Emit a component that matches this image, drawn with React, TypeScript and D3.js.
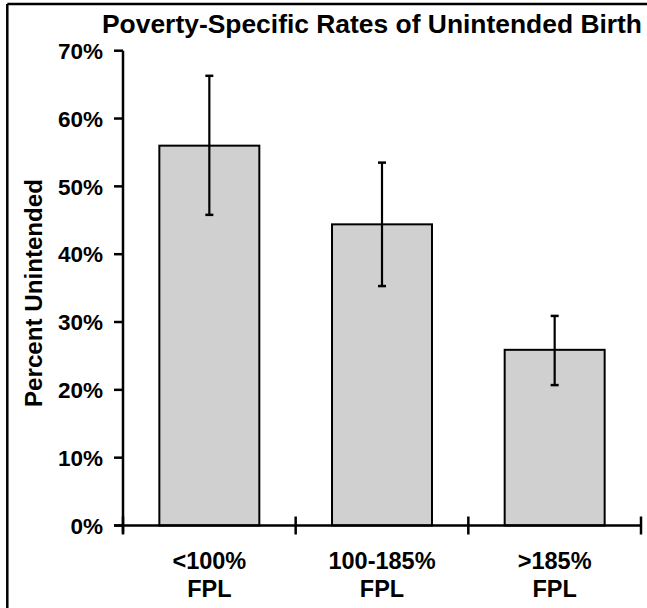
import React from "react";
import * as d3 from "d3";

const categories = ["<100%|FPL", "100-185%|FPL", ">185%|FPL"];
const values = [56.0, 44.4, 25.9];
const errLow = [45.8, 35.3, 20.7];
const errHigh = [66.3, 53.5, 30.9];
const yTicks = [0, 10, 20, 30, 40, 50, 60, 70];
const title = "Poverty-Specific Rates of Unintended Birth";
const yTitle = "Percent Unintended";

const W = 647;
const H = 608;
const FONT = "'Liberation Sans', Arial, sans-serif";

export default function App() {
  const x = d3
    .scaleBand<string>()
    .domain(categories)
    .range([123, 641])
    .paddingInner(0.421)
    .paddingOuter(0.2105);
  const y = d3.scaleLinear().domain([0, 70]).range([525.5, 50.7]);
  const step = x.step();
  const boundaries = d3.range(categories.length + 1).map((i) => 123 + i * step);
  const y0 = y(0);

  return (
    <svg
      width={W}
      height={H}
      style={{ position: "absolute", left: 0, top: 0, background: "#fff" }}
      fontFamily={FONT}
    >
      <rect x={0} y={0} width={W} height={H} fill="#fff" />
      {/* frame */}
      <line x1={7.3} y1={4} x2={W} y2={4} stroke="#000" strokeWidth={2.5} />
      <line x1={7.3} y1={4} x2={7.3} y2={H} stroke="#000" strokeWidth={2.5} />

      {/* title */}
      <text
        x={372}
        y={33}
        textAnchor="middle"
        fontSize={25}
        fontWeight="bold"
        textLength={540}
        lengthAdjust="spacingAndGlyphs"
      >
        {title}
      </text>

      {/* bars */}
      {categories.map((c, i) => (
        <rect
          key={c}
          x={x(c)!}
          y={y(values[i])}
          width={x.bandwidth()}
          height={y0 - y(values[i])}
          fill="#d0d0d0"
          stroke="#000"
          strokeWidth={2}
        />
      ))}

      {/* error bars */}
      {categories.map((c, i) => {
        const cx = x(c)! + x.bandwidth() / 2;
        return (
          <g key={"e" + c} stroke="#000">
            <line x1={cx} x2={cx} y1={y(errHigh[i])} y2={y(errLow[i])} strokeWidth={2.2} />
            <line x1={cx - 4} x2={cx + 4} y1={y(errHigh[i])} y2={y(errHigh[i])} strokeWidth={2.5} />
            <line x1={cx - 4} x2={cx + 4} y1={y(errLow[i])} y2={y(errLow[i])} strokeWidth={2.5} />
          </g>
        );
      })}

      {/* y axis */}
      <line x1={123} x2={123} y1={y(70)} y2={y0 + 8} stroke="#000" strokeWidth={2.5} />
      {yTicks.map((t) => (
        <g key={"yt" + t}>
          <line x1={114} x2={123} y1={y(t)} y2={y(t)} stroke="#000" strokeWidth={2.5} />
          <text
            x={103}
            y={y(t) + 8.3}
            textAnchor="end"
            fontSize={22.5}
            fontWeight="bold"
          >
            {t}%
          </text>
        </g>
      ))}

      {/* x axis */}
      <line x1={114} x2={641} y1={y0} y2={y0} stroke="#000" strokeWidth={2.5} />
      {boundaries.map((bx, i) => (
        <line key={"xt" + i} x1={bx} x2={bx} y1={y0 - 9} y2={y0 + 9} stroke="#000" strokeWidth={2.5} />
      ))}
      {categories.map((c) => {
        const cx = x(c)! + x.bandwidth() / 2;
        const [l1, l2] = c.split("|");
        return (
          <g key={"xl" + c} fontWeight="bold" fontSize={23.5} textAnchor="middle">
            <text x={cx} y={569.3}>{l1}</text>
            <text x={cx} y={596.7}>{l2}</text>
          </g>
        );
      })}

      {/* y title */}
      <text
        transform={`translate(41.7, 293) rotate(-90)`}
        textAnchor="middle"
        fontSize={23}
        fontWeight="bold"
        textLength={228}
        lengthAdjust="spacingAndGlyphs"
      >
        {yTitle}
      </text>
    </svg>
  );
}
